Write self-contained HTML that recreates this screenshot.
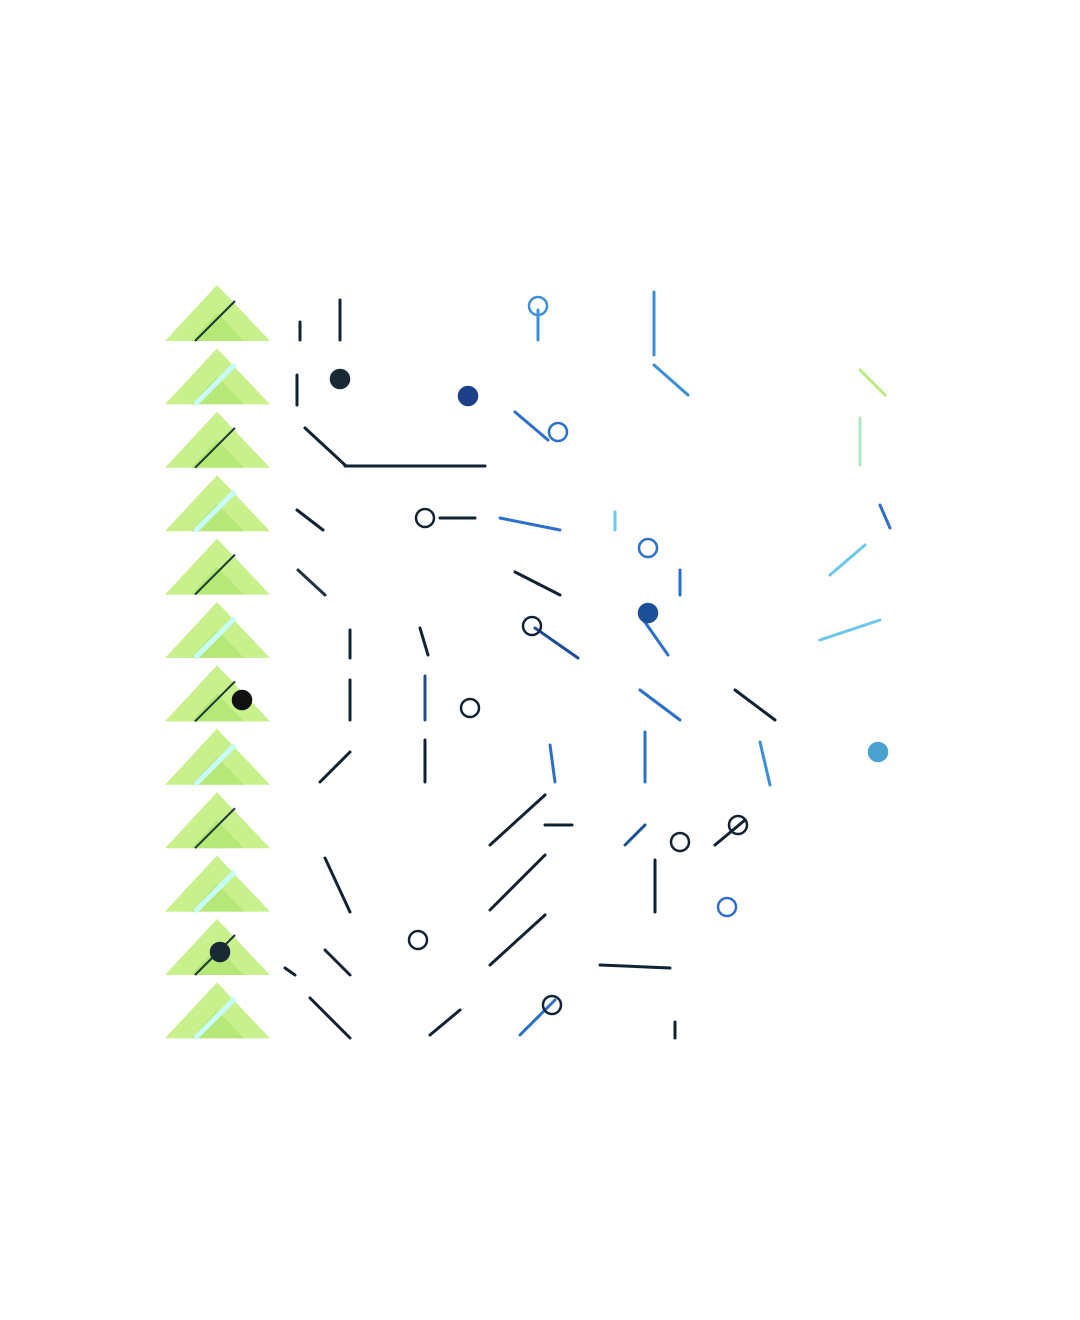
<!DOCTYPE html>
<html><head><meta charset="utf-8"><title>Circuit tile grid</title>
<style>
html,body{margin:0;padding:0;background:#fff;}
svg{display:block;}
</style></head>
<body>
<svg id="art" width="1080" height="1320" viewBox="0 0 1080 1320" xmlns="http://www.w3.org/2000/svg">
<rect x="0" y="0" width="1080" height="1320" fill="#ffffff"/>
<g id="tiles"></g>
<g id="strokes"></g>
</svg>
<script>
// Grid definition (row index list, column index list)
const rows = [0,1,2,3,4,5,6,7,8,9,10,11];
const cols = [0,1,2,3,4,5,6,7];
// stroke marks: [row, colour, x1,y1,x2,y2 in tile-local fraction]
const strokeRow = [0,0,0,0,1,1,1,2,2,2,2,3,3,3,3,3,4,4,4,4,5,5,5,5,5,6,6,6,6,7,7,7,7,7,8,8,8,8,9,9,9,10,10,10,10,11,11,11,11];
const strokeColor = ["#123","#123","#3a8fd8","#3a8fd8","#123","#3a8fd8","#b8ec80","#123","#123","#2b6fc9","#aee8c0","#123","#123","#2b6fc9","#6cc7e8","#2b6fc9","#234","#123","#2b6fc9","#6cc7e8","#123","#123","#1d4f99","#2b6fc9","#6cc7e8","#123","#1d4f99","#2b6fc9","#123","#123","#123","#2b6fc9","#2b6fc9","#3a8fd8","#123","#123","#1d4f99","#123","#123","#123","#123","#123","#123","#123","#123","#123","#123","#2b6fc9","#123"];
const strokeX1 = [340,300,538,654,297,654,860,305,345,515,860,297,440,500,615,880,298,515,680,830,350,420,535,640,820,350,425,640,735,320,425,550,645,760,490,545,625,715,325,490,655,325,490,600,285,310,430,520,675];
const strokeY1 = [300,322,310,292,375,365,370,428,466,412,418,510,518,518,512,505,570,572,570,575,630,628,628,615,640,680,676,690,690,782,740,745,732,742,845,825,845,845,858,910,860,950,965,965,968,998,1035,1035,1038];
const strokeX2 = [340,300,538,654,297,688,885,345,485,548,860,323,475,560,615,890,325,560,680,865,350,428,578,668,880,350,425,680,775,350,425,555,645,770,545,572,645,745,350,545,655,350,545,670,295,350,460,555,675];
const strokeY2 = [340,340,340,355,405,395,395,465,466,440,465,530,518,530,530,528,595,595,595,545,658,655,658,655,620,720,720,720,720,752,782,782,782,785,795,825,825,820,912,855,912,975,915,968,975,1038,1010,1000,1022];
const dotRow = [0,1,1,2,3,4,5,5,6,6,7,8,8,9,10,10,11];
const dotCx = [538,340,468,558,425,648,532,648,242,470,878,680,738,727,220,418,552];
const dotCy = [306,379,396,432,518,548,626,613,700,708,752,842,825,907,952,940,1005];
const dotFilled = [0,1,1,0,0,0,0,1,1,0,1,0,0,0,1,0,0];
const dotColor = ["#3a8fd8","#1a2a35","#1d3f8a","#2b6fc9","#123","#2b6fc9","#123","#1d4f99","#111","#123","#4aa3cf","#123","#123","#2b6fc9","#1a2a35","#123","#123"];

const NS="http://www.w3.org/2000/svg";
const X0=165, Y0=285, W=94, H=63.4;
const tileG=document.getElementById('tiles');
const strG=document.getElementById('strokes');

rows.forEach(r=>{
  const y=Y0+r*H;
  const tri=document.createElementNS(NS,'polygon');
  
  
  tri.setAttribute('points',`${X0},${y+56} ${X0+52},${y} ${X0+105},${y+56}`);
  tri.setAttribute('fill', '#c8f08c');
  tileG.appendChild(tri);
  const inner=document.createElementNS(NS,'polygon');
  
  
  inner.setAttribute('points',`${X0+26},${y+56} ${X0+52},${y+28} ${X0+79},${y+56}`);
  inner.setAttribute('fill', '#b6e878');
  tileG.appendChild(inner);
  const ln=document.createElementNS(NS,'line');
  
  
  ln.setAttribute('x1',X0+30);ln.setAttribute('y1',y+56);
  ln.setAttribute('x2',X0+70);ln.setAttribute('y2',y+16);
  ln.setAttribute('stroke', r%2? '#c8fbff':'#1a3a30');
  ln.setAttribute('stroke-width', r%2? 5:2);
  tileG.appendChild(ln);
});

strokeRow.forEach((r,i)=>{
  const l=document.createElementNS(NS,'line');
  
  
  l.setAttribute('x1',strokeX1[i]);l.setAttribute('y1',strokeY1[i]);
  l.setAttribute('x2',strokeX2[i]);l.setAttribute('y2',strokeY2[i]);
  l.setAttribute('stroke',strokeColor[i]);
  l.setAttribute('stroke-width',3);
  l.setAttribute('stroke-linecap','round');
  strG.appendChild(l);
});

dotRow.forEach((r,i)=>{
  const c=document.createElementNS(NS,'circle');
  
  
  c.setAttribute('cx',dotCx[i]);c.setAttribute('cy',dotCy[i]);
  c.setAttribute('r',9);
  c.setAttribute('fill',dotFilled[i]?dotColor[i]:'none');
  c.setAttribute('stroke',dotColor[i]);
  c.setAttribute('stroke-width',2.5);
  strG.appendChild(c);
});

// row separators (thin white gaps already implied); faint tile borders
rows.forEach(r=>{
  cols.forEach(c=>{
    if(c===0) return;
    const rc=document.createElementNS(NS,'rect');
    
    
    rc.setAttribute('x',X0+c*W);rc.setAttribute('y',Y0+r*H);
    rc.setAttribute('width',W);rc.setAttribute('height',H-4);
    rc.setAttribute('fill','none');
    tileG.appendChild(rc);
  });
});
</script>
</body></html>
